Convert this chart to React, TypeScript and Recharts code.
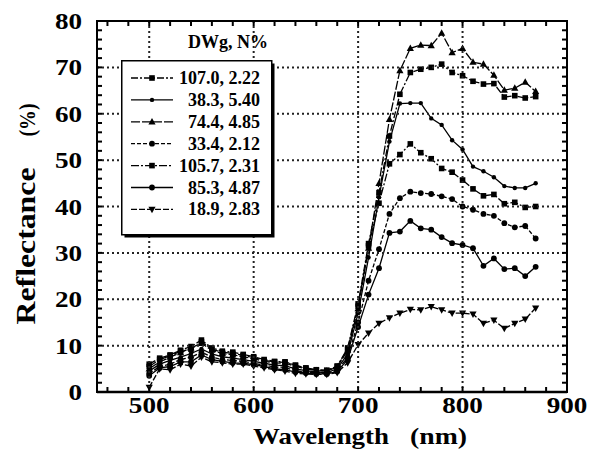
import { LineChart, Line, XAxis, YAxis } from 'recharts';

// wavelength (nm), every 10 nm
const WAVELENGTHS = [
  500, 510, 520, 530, 540, 550, 560, 570, 580, 590,
  600, 610, 620, 630, 640, 650, 660, 670, 680, 690,
  700, 710, 720, 730, 740, 750, 760, 770, 780, 790,
  800, 810, 820, 830, 840, 850, 860, 870,
];

// reflectance (%), one array per sample (DWg, N%)
const S_107_0 = [
  6.0, 7.3, 8.0, 9.0, 9.8, 11.2, 9.5, 8.8, 8.6, 8.1,
  7.6, 7.0, 6.6, 6.5, 5.8, 5.2, 4.8, 4.7, 5.6, 9.5,
  19.0, 32.0, 43.0, 55.2, 64.2, 68.9, 69.6, 70.0, 70.7, 68.9,
  68.2, 67.0, 66.4, 66.5, 63.6, 63.9, 63.4, 63.7,
];
const S_38_3 = [
  4.5, 6.0, 6.8, 7.5, 8.3, 9.3, 8.2, 7.6, 7.3, 7.0,
  6.6, 6.2, 5.8, 5.7, 5.0, 4.6, 4.3, 4.2, 5.0, 8.2,
  17.0, 29.0, 42.0, 54.0, 62.2, 62.3, 62.3, 59.0, 57.6, 54.3,
  52.3, 48.6, 47.6, 46.3, 44.4, 44.0, 44.0, 45.0,
];
const S_74_4 = [
  5.0, 6.5, 7.5, 8.5, 9.5, 10.5, 9.0, 8.3, 8.0, 7.6,
  7.2, 6.6, 6.3, 6.2, 5.5, 5.0, 4.6, 4.5, 5.4, 9.0,
  18.0, 31.0, 45.0, 58.8, 69.3, 74.1, 74.8, 74.7, 77.4, 73.2,
  74.1, 71.1, 70.7, 68.3, 65.1, 65.5, 66.8, 64.8,
];
const S_33_4 = [
  4.0, 5.5, 6.0, 7.0, 7.5, 8.6, 7.5, 7.0, 6.8, 6.6,
  6.2, 5.8, 5.4, 5.3, 4.6, 4.3, 4.1, 4.0, 4.7, 7.5,
  15.0, 24.0, 30.8, 38.4, 41.8, 43.2, 42.9, 42.7, 42.2, 41.6,
  40.0, 39.3, 38.4, 38.0, 36.4, 35.5, 35.8, 33.1,
];
const S_105_7 = [
  5.5, 7.0, 7.8, 8.8, 9.2, 10.8, 9.2, 8.6, 8.3, 7.9,
  7.4, 6.8, 6.5, 6.4, 5.7, 5.1, 4.7, 4.6, 5.5, 9.2,
  18.5, 31.5, 40.7, 49.2, 51.2, 53.5, 51.6, 50.3, 48.2, 47.4,
  45.7, 43.8, 42.3, 42.6, 40.6, 40.9, 39.8, 40.0,
];
const S_85_3 = [
  3.5, 5.2, 5.5, 6.5, 6.5, 8.0, 7.0, 6.6, 6.3, 6.2,
  5.9, 5.5, 5.0, 4.8, 4.3, 4.1, 3.9, 3.9, 4.4, 7.0,
  14.0, 21.0, 26.7, 34.3, 34.6, 36.9, 35.3, 35.0, 33.4, 32.1,
  31.7, 31.0, 27.2, 28.8, 26.5, 26.7, 25.0, 27.0,
];
const S_18_9 = [
  1.0, 5.0, 4.8, 6.0, 5.6, 7.5, 6.5, 6.3, 6.0, 6.0,
  5.6, 5.2, 4.8, 4.5, 4.0, 3.9, 3.8, 3.8, 4.2, 6.3,
  10.2, 12.7, 14.8, 16.0, 17.0, 17.8, 17.7, 18.4, 17.7, 17.0,
  17.0, 16.8, 14.8, 15.5, 13.7, 14.8, 15.7, 18.1,
];

const SERIES = [S_107_0, S_38_3, S_74_4, S_33_4, S_105_7, S_85_3, S_18_9];
const SERIES_NAMES = [
  '107.0, 2.22',
  '38.3, 5.40',
  '74.4, 4.85',
  '33.4, 2.12',
  '105.7, 2.31',
  '85.3, 4.87',
  '18.9, 2.83',
];
const LEGEND_TITLE = 'DWg, N%';

const X_DOMAIN = [450, 900];
const Y_DOMAIN = [0, 80];
const X_TICKS = [500, 600, 700, 800, 900];
const Y_TICKS = [0, 10, 20, 30, 40, 50, 60, 70, 80];
const X_GRID = [500, 600, 700, 800];
const Y_GRID = [10, 20, 30, 40, 50, 60, 70];
// small inward tick marks on the frame
const X_MINOR = [
  460, 480, 500, 520, 540, 560, 580, 600, 620, 640, 660,
  680, 700, 720, 740, 760, 780, 800, 820, 840, 860, 880,
];
const Y_MINOR = [
  2, 4, 6, 8, 10, 12, 14, 16, 18, 20, 22, 24, 26, 28, 30, 32, 34, 36, 38,
  40, 42, 44, 46, 48, 50, 52, 54, 56, 58, 60, 62, 64, 66, 68, 70, 72, 74, 76, 78,
];

const rows = WAVELENGTHS.map((wl, i) => {
  const row: Record<string, number> = { wl };
  SERIES.forEach((s, k) => {
    row[`s${k}`] = s[i];
  });
  return row;
});

const MARKERS = ['square', 'dot', 'triangle', 'circle', 'square', 'circle', 'invtriangle'];
const DASHES = ['7 2 2 2', undefined, '9 2', '4 2', '8 2 2 2', undefined, '6 2'];

const FONT = '"Liberation Serif", "Times New Roman", serif';
const INK = '#000';

const CHART_W = 590;
const CHART_H = 447;
const MARGIN = { top: 13, right: 31, left: 0, bottom: 0 };
const Y_AXIS_W = 89;
const X_AXIS_H = 63;
const PLOT_L = MARGIN.left + Y_AXIS_W;
const PLOT_T = MARGIN.top;
const PLOT_W = CHART_W - MARGIN.left - MARGIN.right - Y_AXIS_W;
const PLOT_H = CHART_H - MARGIN.top - MARGIN.bottom - X_AXIS_H;
const TICK_LEN = 5;

// same linear mapping as the chart's axes, for the frame decoration
const sx = (v: number) => PLOT_L + ((v - X_DOMAIN[0]) / (X_DOMAIN[1] - X_DOMAIN[0])) * PLOT_W;
const sy = (v: number) => PLOT_T + ((Y_DOMAIN[1] - v) / (Y_DOMAIN[1] - Y_DOMAIN[0])) * PLOT_H;

function marker(kind: string, cx: number, cy: number, key?: any) {
  if (cx == null || cy == null) return <g key={key} />;
  switch (kind) {
    case 'square':
      return <rect key={key} x={cx - 2.8} y={cy - 2.8} width={5.6} height={5.6} fill={INK} />;
    case 'dot':
      return <circle key={key} cx={cx} cy={cy} r={2.2} fill={INK} />;
    case 'triangle':
      return (
        <polygon
          key={key}
          points={`${cx},${cy - 3.9} ${cx - 3.6},${cy + 2.6} ${cx + 3.6},${cy + 2.6}`}
          fill={INK}
        />
      );
    case 'invtriangle':
      return (
        <polygon
          key={key}
          points={`${cx},${cy + 3.9} ${cx - 3.6},${cy - 2.6} ${cx + 3.6},${cy - 2.6}`}
          fill={INK}
        />
      );
    default:
      return <circle key={key} cx={cx} cy={cy} r={2.9} fill={INK} />;
  }
}

const makeDot = (kind: string) => (props: any) =>
  marker(kind, props.cx, props.cy, `${kind}-${props.index}`);

const XTick = ({ x, y, payload }: any) => (
  <text
    transform={`translate(${x},${y + 17}) scale(1.18,1)`}
    textAnchor="middle"
    fill={INK}
    style={{ fontFamily: FONT, fontWeight: 'bold', fontSize: 23 }}
  >
    {payload.value}
  </text>
);

const YTick = ({ x, y, payload }: any) => (
  <text
    transform={`translate(${x},${y + 8}) scale(1.18,1)`}
    textAnchor="end"
    fill={INK}
    style={{ fontFamily: FONT, fontWeight: 'bold', fontSize: 23 }}
  >
    {payload.value}
  </text>
);

const labelStyle = { fontFamily: FONT, fontWeight: 'bold' as const };

// dotted grid, inward ticks and frame, laid over the chart
const Frame = () => (
  <svg
    width={CHART_W}
    height={CHART_H}
    style={{ position: 'absolute', left: 0, top: 0, pointerEvents: 'none', zIndex: 2 }}
  >
    {X_GRID.map((v) => (
      <line
        key={`gx${v}`}
        x1={sx(v)}
        x2={sx(v)}
        y1={PLOT_T}
        y2={PLOT_T + PLOT_H}
        stroke="#222"
        strokeWidth={2}
        strokeDasharray="2 3"
      />
    ))}
    {Y_GRID.map((v) => (
      <line
        key={`gy${v}`}
        x1={PLOT_L}
        x2={PLOT_L + PLOT_W}
        y1={sy(v)}
        y2={sy(v)}
        stroke="#222"
        strokeWidth={2}
        strokeDasharray="2 3"
      />
    ))}
    {X_MINOR.map((v) => (
      <g key={`tx${v}`}>
        <line x1={sx(v)} x2={sx(v)} y1={PLOT_T + PLOT_H} y2={PLOT_T + PLOT_H - TICK_LEN} stroke={INK} strokeWidth={2} />
        <line x1={sx(v)} x2={sx(v)} y1={PLOT_T} y2={PLOT_T + TICK_LEN} stroke={INK} strokeWidth={2} />
      </g>
    ))}
    {Y_MINOR.map((v) => (
      <g key={`ty${v}`}>
        <line x1={PLOT_L} x2={PLOT_L + TICK_LEN} y1={sy(v)} y2={sy(v)} stroke={INK} strokeWidth={2} />
        <line x1={PLOT_L + PLOT_W} x2={PLOT_L + PLOT_W - TICK_LEN} y1={sy(v)} y2={sy(v)} stroke={INK} strokeWidth={2} />
      </g>
    ))}
    <rect x={PLOT_L} y={PLOT_T} width={PLOT_W} height={PLOT_H} fill="none" stroke={INK} strokeWidth={2} />
  </svg>
);

const AxisTitles = () => (
  <svg
    width={CHART_W}
    height={CHART_H}
    style={{ position: 'absolute', left: 0, top: 0, pointerEvents: 'none', zIndex: 3 }}
  >
    <text x={245} y={436} textLength={136} lengthAdjust="spacingAndGlyphs" fill={INK} style={{ ...labelStyle, fontSize: 24 }}>
      Wavelength
    </text>
    <text x={402} y={436} textLength={57} lengthAdjust="spacingAndGlyphs" fill={INK} style={{ ...labelStyle, fontSize: 24 }}>
      (nm)
    </text>
    <text
      transform="translate(27,238) rotate(-90)"
      textAnchor="middle"
      textLength={157}
      lengthAdjust="spacingAndGlyphs"
      fill={INK}
      style={{ ...labelStyle, fontSize: 27 }}
    >
      Reflectance
    </text>
    <text
      transform="translate(27,112) rotate(-90)"
      textAnchor="middle"
      textLength={33}
      lengthAdjust="spacingAndGlyphs"
      fill={INK}
      style={{ ...labelStyle, fontSize: 24 }}
    >
      (%)
    </text>
  </svg>
);

const LegendBox = () => (
  <svg width={160} height={215} style={{ position: 'absolute', left: 113, top: 20, zIndex: 4 }}>
    <text x={107} y={20} textAnchor="middle" fill={INK} style={{ ...labelStyle, fontSize: 18 }}>
      {LEGEND_TITLE}
    </text>
    <rect x={3.5} y={35.5} width={150} height={174} fill={INK} />
    <rect x={0.75} y={32.75} width={150} height={174} fill="#fff" stroke={INK} strokeWidth={1.5} />
    {SERIES_NAMES.map((name, i) => {
      const cy = 50 + 21.9 * i;
      return (
        <g key={name}>
          <line x1={10} x2={52} y1={cy} y2={cy} stroke={INK} strokeWidth={1.3} strokeDasharray={DASHES[i]} />
          {marker(MARKERS[i], 31, cy)}
          <text x={139} y={cy + 6} textAnchor="end" fill={INK} style={{ ...labelStyle, fontSize: 18 }}>
            {name}
          </text>
        </g>
      );
    })}
  </svg>
);

export default function App() {
  return (
    <div style={{ position: 'relative', width: CHART_W, height: CHART_H }}>
      <LineChart width={CHART_W} height={CHART_H} data={rows} margin={MARGIN}>
        <XAxis
          dataKey="wl"
          type="number"
          domain={X_DOMAIN}
          ticks={X_TICKS}
          interval={0}
          tickLine={false}
          tickSize={0}
          tickMargin={4}
          height={X_AXIS_H}
          axisLine={{ stroke: INK, strokeWidth: 2.5 }}
          tick={<XTick />}
        />
        <YAxis
          domain={Y_DOMAIN}
          ticks={Y_TICKS}
          interval={0}
          width={Y_AXIS_W}
          tickLine={false}
          tickSize={0}
          tickMargin={15}
          axisLine={{ stroke: INK, strokeWidth: 2 }}
          tick={<YTick />}
        />
        {SERIES.map((_, k) => (
          <Line
            key={k}
            dataKey={`s${k}`}
            name={SERIES_NAMES[k]}
            stroke={INK}
            strokeWidth={1.3}
            strokeDasharray={DASHES[k]}
            dot={makeDot(MARKERS[k])}
            activeDot={false}
            isAnimationActive={false}
          />
        ))}
      </LineChart>
      <Frame />
      <AxisTitles />
      <LegendBox />
    </div>
  );
}
